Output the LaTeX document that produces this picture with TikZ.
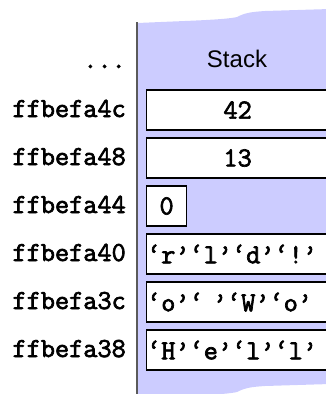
\documentclass[tikz,border=0pt]{standalone}
\usepackage{fontspec}
\setmainfont{Liberation Sans}
\setmonofont{Latin Modern Mono}[BoldFont={Latin Modern Mono}, BoldFeatures={FakeBold=2.5}]

\tikzset{
  addr/.style={font=\fontsize{27.5}{28}\selectfont\ttfamily\bfseries, anchor=base east, inner sep=0pt},
  cell/.style={draw=black, line width=1.2pt, fill=white, minimum height=40pt, inner sep=0pt,
    font=\fontsize{27.5}{28}\selectfont\ttfamily\bfseries},
  widecell/.style={cell, minimum width=182pt},
}

\begin{document}
\begin{tikzpicture}[x=1pt, y=-1pt]

  \definecolor{stackfill}{RGB}{204, 204, 255}
  \definecolor{stackedge}{RGB}{90, 90, 90}

  \useasboundingbox (0, 0) rectangle (326, 394);
  \clip (0, 0) rectangle (326, 394);

  % Stack region (torn top and bottom)
  \fill[stackfill] (138, 23) .. controls (180, 21) and (225, 20) .. (237, 17)
    .. controls (245, 13) and (250, 12) .. (265, 11) -- (330, 9)
    -- (330, 384) -- (265, 386)
    .. controls (250, 387) and (245, 388) .. (237, 392)
    .. controls (225, 395) and (180, 396) .. (138, 398) -- cycle;
  \draw[stackedge, line width=2pt] (137, 22) -- (137, 402);

  \node[font=\fontsize{24}{24}\selectfont, anchor=base] (title) at (237, 67) {Stack};

  % Addresses
  \node[addr] (dotstop) at (126, 68) {...};
  \node[addr] (a4c) at (126, 117) {ffbefa4c};
  \node[addr] (a48) at (126, 165) {ffbefa48};
  \node[addr] (a44) at (126, 213) {ffbefa44};
  \node[addr] (a40) at (126, 261) {ffbefa40};
  \node[addr] (a3c) at (126, 309) {ffbefa3c};
  \node[addr] (a38) at (126, 357) {ffbefa38};
  \node[addr] (dotsbot) at (126, 403) {...};

  % Cells
  \node[widecell, anchor=west] (v42) at (146, 110) {42};
  \node[widecell, anchor=west] (v13) at (146, 158) {13};
  \node[cell, minimum width=40pt, anchor=west] (v0) at (146, 206) {0};
  \node[widecell, anchor=west, align=left, text width=181pt, inner xsep=0.5pt] (s40) at (146, 254) {‘r’‘l’‘d’‘!’};
  \node[widecell, anchor=west, align=left, text width=181pt, inner xsep=0.5pt] (s3c) at (146, 302) {‘o’‘ ’‘W’‘o’};
  \node[widecell, anchor=west, align=left, text width=181pt, inner xsep=0.5pt] (s38) at (146, 350) {‘H’‘e’‘l’‘l’};

\end{tikzpicture}
\end{document}
